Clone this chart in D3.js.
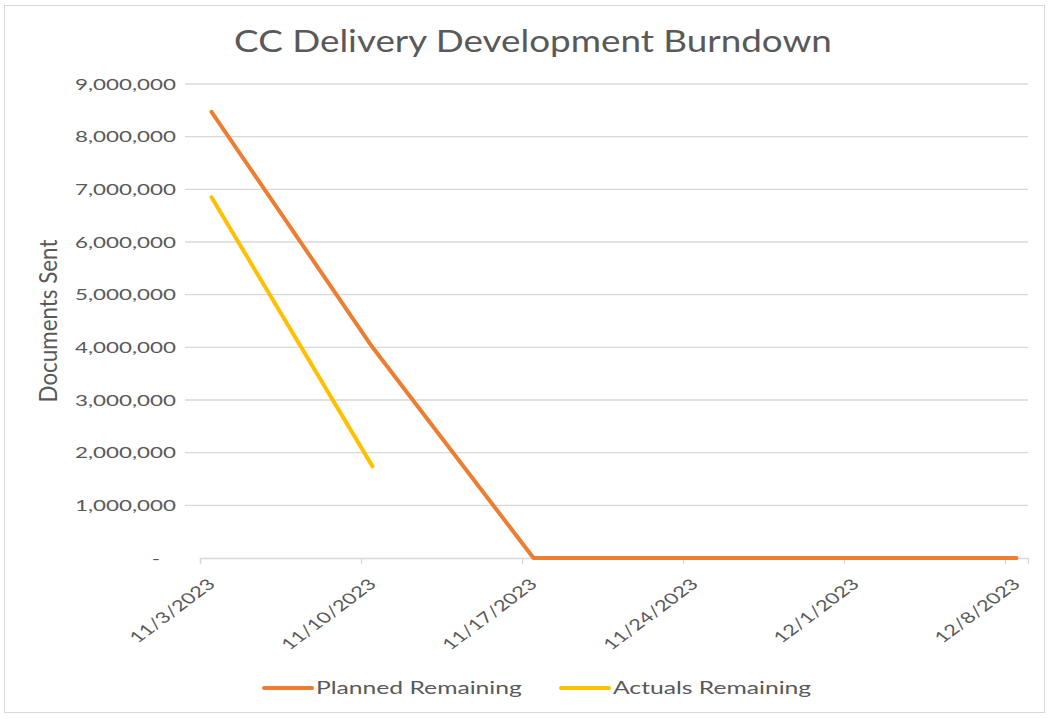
<!DOCTYPE html>
<html>
<head>
<meta charset="utf-8">
<script src="https://cdn.jsdelivr.net/npm/d3@7"></script>
<style>
  html, body { margin: 0; padding: 0; background: #fff; }
  svg text { font-family: "Lato", "Open Sans", sans-serif; fill: #595959; }
</style>
</head>
<body>
<svg id="chart"></svg>
<script>
// data
const dates = ['2023-11-03', '2023-11-10', '2023-11-17', '2023-11-24', '2023-12-01', '2023-12-08'];
const planned = [8470000, 4000000, 0, 0, 0, 0];
const actualDates = ['2023-11-03', '2023-11-10'];
const actuals = [6850000, 1740000];
const yTicks = [0, 1000000, 2000000, 3000000, 4000000, 5000000, 6000000, 7000000, 8000000, 9000000];
const seriesNames = ['Planned Remaining', 'Actuals Remaining'];
const seriesColors = ['#ED7D31', '#FFC000'];

const width = 1049, height = 719;
const margin = { top: 84, right: 21, bottom: 161, left: 200 };
const innerWidth = width - margin.left - margin.right;
const innerHeight = height - margin.top - margin.bottom;

// the original picture is stretched sideways, so its text is wide
const stretch = 1.34;

const parseDate = d3.timeParse('%Y-%m-%d');
// Excel date axis: each point sits in the middle of its day slot
const mid = d => d3.timeHour.offset(parseDate(d), 12);

// horizontal scale factor that brings a text to a target width
const fit = (node, target) => target / node.getComputedTextLength();

const svg = d3.select('#chart')
  .attr('width', width)
  .attr('height', height);

// chart border
svg.append('rect')
  .attr('x', 4.5).attr('y', 5.5)
  .attr('width', width - 9).attr('height', height - 12)
  .attr('fill', 'none')
  .attr('stroke', '#d9d9d9');

const g = svg.append('g')
  .attr('transform', `translate(${margin.left},${margin.top})`);

const xScale = d3.scaleTime()
  .domain([parseDate(dates[0]), d3.timeDay.offset(parseDate(dates[dates.length - 1]), 1)])
  .range([0, innerWidth]);

const yScale = d3.scaleLinear()
  .domain([0, 9000000])
  .range([innerHeight, 0]);

// gridlines
g.selectAll('.grid')
  .data(yTicks.filter(d => d > 0))
  .enter()
  .append('line')
  .attr('x1', -15)
  .attr('x2', innerWidth)
  .attr('y1', d => yScale(d))
  .attr('y2', d => yScale(d))
  .attr('stroke', '#d9d9d9')
  .attr('stroke-width', 1.3);

// y axis labels
const fmt = d3.format(',');
const yLabels = g.append('g')
  .call(d3.axisLeft(yScale).tickValues(yTicks).tickSize(0)
    .tickFormat(d => d === 0 ? '-' : fmt(d)))
  .call(a => a.select('.domain').remove())
  .selectAll('text')
  .style('font-size', '16px')
  .attr('x', 0);
const ys = fit(yLabels.filter(d => d === 9000000).node(), 101);
yLabels.attr('transform', d => `translate(${d === 0 ? -40 : -24},0) scale(${ys},1)`);

// y axis title
const yTitle = g.append('text')
  .attr('text-anchor', 'middle')
  .style('font-size', '18px')
  .text('Documents Sent');
const ts = fit(yTitle.node(), 163);
yTitle.attr('transform', `translate(${-143},${321 - margin.top}) scale(${stretch},1) rotate(-90) scale(${ts},1)`);

// x axis
const xAxis = g.append('g')
  .attr('transform', `translate(0,${innerHeight})`)
  .call(d3.axisBottom(xScale)
    .tickValues(dates.map(parseDate))
    .tickSize(6)
    .tickFormat(d3.timeFormat('%-m/%-d/%Y')));
xAxis.select('.domain').attr('stroke', '#d9d9d9').attr('stroke-width', 1.3);
xAxis.selectAll('.tick line').attr('stroke', '#d9d9d9').attr('stroke-width', 1.3);
const xLabels = xAxis.selectAll('.tick text')
  .style('font-size', '15px')
  .style('text-anchor', 'end')
  .attr('y', 0)
  .attr('dy', 0);
const xs = fit(xLabels.filter((d, i) => i === 1).node(), 93);
xLabels.attr('transform', `translate(16,27) scale(${stretch},1) rotate(-45) scale(${xs},1)`);

// lines
const line = d3.line()
  .x(d => xScale(d.date))
  .y(d => yScale(d.value));

const plannedData = dates.map((d, i) => ({ date: mid(d), value: planned[i] }));
const actualData = actualDates.map((d, i) => ({ date: mid(d), value: actuals[i] }));

[plannedData, actualData].forEach((data, i) => {
  g.append('path')
    .datum(data)
    .attr('d', line)
    .attr('fill', 'none')
    .attr('stroke', seriesColors[i])
    .attr('stroke-width', 4)
    .attr('stroke-linejoin', 'round')
    .attr('stroke-linecap', 'round');
});

// title
const title = svg.append('text')
  .attr('text-anchor', 'middle')
  .style('font-size', '31px')
  .text('CC Delivery Development Burndown');
title.attr('transform', `translate(533,52) scale(${fit(title.node(), 598)},1)`);

// legend
const legendX = [264, 561];
const legendTexts = [];
seriesNames.forEach((name, i) => {
  const lg = svg.append('g').attr('transform', `translate(${legendX[i]},688)`);
  lg.append('line')
    .attr('x1', 0).attr('x2', 48)
    .attr('y1', 0).attr('y2', 0)
    .attr('stroke', seriesColors[i])
    .attr('stroke-width', 4)
    .attr('stroke-linecap', 'round');
  legendTexts.push(lg.append('text')
    .style('font-size', '17px')
    .text(name).node());
});
const ls = fit(legendTexts[0], 206);
d3.selectAll(legendTexts).attr('transform', `translate(52,6) scale(${ls},1)`);
</script>
</body>
</html>
